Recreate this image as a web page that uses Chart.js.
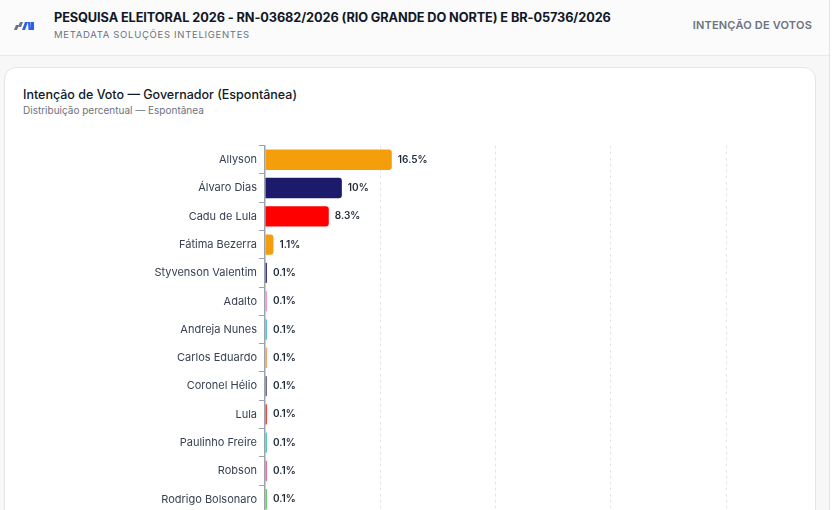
<!DOCTYPE html>
<html>
<head>
<meta charset="utf-8">
<script src="https://cdn.jsdelivr.net/npm/chart.js@4.4.1/dist/chart.umd.min.js"></script>
<style>
  html,body{margin:0;padding:0;width:834px;height:510px;overflow:hidden;background:#f7f7f8;font-family:Inter,"Noto Sans",sans-serif;}
  .header{position:absolute;left:0;top:0;width:829px;height:55px;background:#fbfbfb;border-bottom:1px solid #e8e8ea;}
  .logo{position:absolute;left:14px;top:19px;}
  .htitle{position:absolute;left:54px;top:10px;font-size:12.75px;font-weight:700;color:#111827;white-space:nowrap;letter-spacing:-0.1px;}
  .hsub{position:absolute;left:54px;top:29px;font-size:9.5px;color:#6b7280;letter-spacing:0.7px;white-space:nowrap;}
  .hright{position:absolute;right:17px;top:18px;font-size:11px;font-weight:600;color:#6b7280;letter-spacing:0.2px;white-space:nowrap;}
  .scroll{position:absolute;left:829px;top:0;width:5px;height:510px;background:#ffffff;border-left:1px solid #e5e5e7;}
  .card{position:absolute;left:4px;top:67px;width:810px;height:500px;background:#fff;border:1px solid #e4e5e8;border-radius:12px;}
  .ctitle{position:absolute;left:18px;top:19px;font-size:12.5px;font-weight:500;color:#111827;white-space:nowrap;}
  .csub{position:absolute;left:18px;top:36px;font-size:10px;color:#6b7280;white-space:nowrap;}
  .chartbox{position:absolute;left:19px;top:69px;width:779px;height:385px;}
</style>
</head>
<body>
<div class="header">
  <svg class="logo" width="22" height="14" viewBox="0 0 22 14">
    <polygon points="2,6 5,6 3,11 0,11" fill="#6b7280"/>
    <polygon points="6,3 9,3 7,8 4,8" fill="#6b7280"/>
    <polygon points="11,3 14,3 11,11 8,11" fill="#2563eb"/>
    <polygon points="14,3 16.5,3 17,11 14.5,11" fill="#2563eb"/>
    <polygon points="17,3 20,3 20,11 17,11" fill="#2563eb"/>
  </svg>
  <div class="htitle">PESQUISA ELEITORAL 2026 - RN-03682/2026 (RIO GRANDE DO NORTE) E BR-05736/2026</div>
  <div class="hsub">METADATA SOLUÇÕES INTELIGENTES</div>
  <div class="hright">INTENÇÃO DE VOTOS</div>
</div>
<div class="scroll"></div>
<div class="card">
  <div class="ctitle">Intenção de Voto — Governador (Espontânea)</div>
  <div class="csub">Distribuição percentual — Espontânea</div>
  <div class="chartbox"><canvas id="c"></canvas></div>
</div>
<script>
const categories = ["Allyson","Álvaro Dias","Cadu de Lula","Fátima Bezerra","Styvenson Valentim","Adalto","Andreja Nunes","Carlos Eduardo","Coronel Hélio","Lula","Paulinho Freire","Robson","Rodrigo Bolsonaro"];
const values = [16.5,10,8.3,1.1,0.1,0.1,0.1,0.1,0.1,0.1,0.1,0.1,0.1];
const barColors = ["#f59e0b","#1c1a6b","#ff0000","#f59e0b","#3f3d8a","#e59bc2","#5bbfd6","#f4a261","#6b7280","#ef4444","#4ecdc4","#e8718d","#6cc96c"];
const xMax = 70;
const xStep = 15;

const labelPlugin = {
  id:'barLabels',
  afterDatasetsDraw(chart){
    const ctx = chart.ctx;
    const meta = chart.getDatasetMeta(0);
    ctx.save();
    ctx.font = '600 10px Inter, "Noto Sans", sans-serif';
    ctx.fillStyle = '#1f2937';
    ctx.textAlign = 'left';
    ctx.textBaseline = 'middle';
    meta.data.forEach((bar,i)=>{
      const v = chart.data.datasets[0].data[i];
      ctx.fillText(v + '%', bar.x + 6, bar.y);
    });
    ctx.restore();
  }
};

new Chart(document.getElementById('c'),{
  type:'bar',
  data:{labels:categories,datasets:[{data:values,backgroundColor:barColors,borderRadius:3,minBarLength:2,barPercentage:0.9,categoryPercentage:0.8}]},
  options:{
    indexAxis:'y',
    responsive:true,
    maintainAspectRatio:false,
    animation:false,
    layout:{padding:0},
    plugins:{legend:{display:false},tooltip:{enabled:false}},
    scales:{
      x:{
        min:0,max:xMax,
        ticks:{display:false,stepSize:xStep},
        border:{display:false,dash:[3,3]},
        grid:{drawTicks:false,lineWidth:1,color:(c)=> (c.tick && (c.tick.value===0 || c.tick.value===xMax)) ? 'rgba(0,0,0,0)' : '#e3e5e8'}
      },
      y:{
        afterFit(s){ s.width = 241; },
        ticks:{color:'#374151',font:{size:11,family:'Inter, "Noto Sans", sans-serif'},padding:2},
        grid:{drawOnChartArea:false,tickLength:6,color:'#9ca3af'},
        border:{display:true,color:'#9ca3af',width:1.5}
      }
    }
  },
  plugins:[labelPlugin]
});
</script>
</body>
</html>
